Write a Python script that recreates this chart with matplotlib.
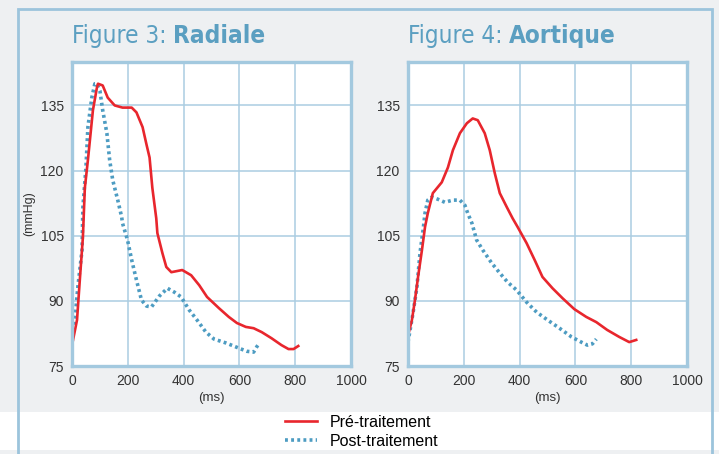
import matplotlib
matplotlib.use("Agg")
import matplotlib.pyplot as plt
from matplotlib.lines import Line2D
from matplotlib.patches import Rectangle
from matplotlib import font_manager

# Figure 3 : Radiale
rad_pre_ms = [0, 18, 28, 39, 46, 57, 75, 89, 93, 110, 128, 153, 181, 214, 231, 253,
              267, 278, 288, 302, 306, 324, 338, 356, 395, 427, 456, 484, 527, 562,
              591, 623, 651, 680, 715, 751, 776, 794, 811]
rad_pre = [79.8, 85.6, 94.8, 104.6, 116, 122.4, 133.9, 139, 140, 139.6, 136.8, 135,
           134.5, 134.5, 133.4, 130, 126, 123, 116, 109, 105.6, 101, 97.8, 96.6, 97.1,
           95.9, 93.6, 90.9, 88.3, 86.3, 84.9, 84.0, 83.7, 82.8, 81.4, 79.8, 78.9, 78.9, 79.6]
rad_post_ms = [0, 11, 21, 36, 39, 50, 57, 71, 82, 89, 100, 110, 125, 135, 146, 164,
               178, 181, 199, 214, 231, 249, 267, 285, 313, 342, 367, 391, 420, 448,
               480, 509, 552, 587, 626, 651, 662, 672]
rad_post = [80.3, 86.3, 93.2, 101.7, 111.5, 120.7, 130, 136.8, 140, 140, 138.4, 133.9,
            128.6, 122.4, 117.8, 113.2, 109.3, 107.9, 104, 99.4, 94.8, 90.2, 88.8, 88.6,
            91.1, 92.9, 92.0, 90.9, 87.9, 85.6, 82.8, 81.2, 80.3, 79.4, 78.4, 78.2, 79.4, 80.3]

# Figure 4 : Aortique
aor_pre_ms = [0, 14, 25, 36, 50, 61, 71, 89, 121, 143, 161, 186, 211, 232, 250, 275,
              293, 311, 329, 354, 375, 393, 425, 454, 482, 518, 554, 596, 639, 675,
              714, 757, 793, 818]
aor_pre = [82.0, 85.6, 90.2, 95.5, 101.7, 107, 110.2, 114.8, 117.3, 120.7, 124.7, 128.6,
           130.9, 132, 131.6, 128.6, 124.7, 119.4, 114.8, 111.6, 109.0, 107, 103.3, 99.4,
           95.5, 92.9, 90.6, 88.1, 86.3, 85.1, 83.3, 81.7, 80.5, 81.0]
aor_post_ms = [0, 18, 32, 43, 54, 61, 71, 86, 107, 132, 161, 186, 204, 214, 229, 246,
               268, 300, 329, 357, 389, 425, 461, 500, 543, 586, 621, 643, 661, 675]
aor_post = [80.5, 87.2, 93.2, 101, 106.3, 110.2, 113.2, 113.9, 113.4, 112.7, 113.2, 113.2,
            112, 110.2, 107.9, 104, 101.7, 98.7, 96.4, 94.3, 92.5, 89.7, 87.4, 85.6, 83.7,
            81.7, 80.5, 79.8, 80.1, 81.2]

x_ticks = [0, 200, 400, 600, 800, 1000]
y_ticks = [75, 90, 105, 120, 135]
titles = [("Figure 3: ", "Radiale"), ("Figure 4: ", "Aortique")]
labels = ["Pré-traitement", "Post-traitement"]

RED = "#e8262d"
BLUE = "#4d9cc2"
FRAME = "#a3c9df"
GRID = "#abcde1"
BG = "#eef0f2"
TITLE = "#5b9fc1"

# condensed face for the titles if one is installed
cond = [f.name for f in font_manager.fontManager.ttflist
        if "condensed" in str(f.stretch).lower() or "Narrow" in f.name
        or "Condensed" in f.name]
COND_FAM = (cond[:1] or ["Liberation Sans"]) + ["DejaVu Sans"]
COND_STRETCH = "condensed" if cond else "normal"

plt.rcParams["font.family"] = ["Liberation Sans", "DejaVu Sans"]

fig = plt.figure(figsize=(7.19, 4.54), dpi=100)
fig.patch.set_facecolor(BG)

# legend band and outer frame
fig.patches.append(Rectangle((0, 4 / 454), 1, 38 / 454, transform=fig.transFigure,
                             facecolor="white", edgecolor="none", zorder=0))
fig.patches.append(Rectangle((18 / 719, -0.05), 694 / 719, 1.05 - 9 / 454,
                             transform=fig.transFigure, facecolor="none",
                             edgecolor="#9cc4dc", linewidth=2, zorder=1))

pre_style = dict(color=RED, lw=1.9)
post_style = dict(color=BLUE, lw=2.6, linestyle=(0, (0.8, 0.9)), dash_capstyle="butt")

panels = [(rad_pre_ms, rad_pre, rad_post_ms, rad_post, 72),
          (aor_pre_ms, aor_pre, aor_post_ms, aor_post, 408)]

for i, (xa, ya, xb, yb, left_px) in enumerate(panels):
    ax = fig.add_axes([left_px / 719, 1 - 366 / 454, 279 / 719, 304 / 454])
    ax.set_facecolor("white")
    ax.plot(xb, yb, **post_style)
    ax.plot(xa, ya, **pre_style)
    ax.set_xlim(0, 1000)
    ax.set_ylim(75, 145)
    ax.set_xticks(x_ticks)
    ax.set_yticks(y_ticks)
    ax.tick_params(length=0, labelsize=10, colors="#333333", pad=6)
    ax.grid(True, color=GRID, lw=1.1)
    ax.set_axisbelow(True)
    for s in ax.spines.values():
        s.set_color(FRAME)
        s.set_linewidth(2.4)
    ax.set_xlabel("(ms)", fontsize=9.5, color="#333333", labelpad=3)
    if i == 0:
        ax.set_ylabel("(mmHg)", fontsize=9, color="#333333", labelpad=4)
    t1 = ax.text(0, 1.045, titles[i][0], transform=ax.transAxes, fontsize=17.5,
                 color=TITLE, family=COND_FAM, stretch=COND_STRETCH,
                 va="bottom", ha="left")
    ax.annotate(titles[i][1], xy=(1, 0), xycoords=t1, fontsize=17.5, color=TITLE,
                family=COND_FAM, stretch=COND_STRETCH, fontweight="bold",
                va="bottom", ha="left")

handles = [Line2D([], [], **pre_style), Line2D([], [], **post_style)]
fig.legend(handles, labels, loc="center", bbox_to_anchor=(0.503, 0.049), frameon=False,
           fontsize=11.5, handlelength=2.0, labelspacing=0.25, handletextpad=0.8,
           borderpad=0)

fig.savefig("out.png", dpi=100, facecolor=BG)
